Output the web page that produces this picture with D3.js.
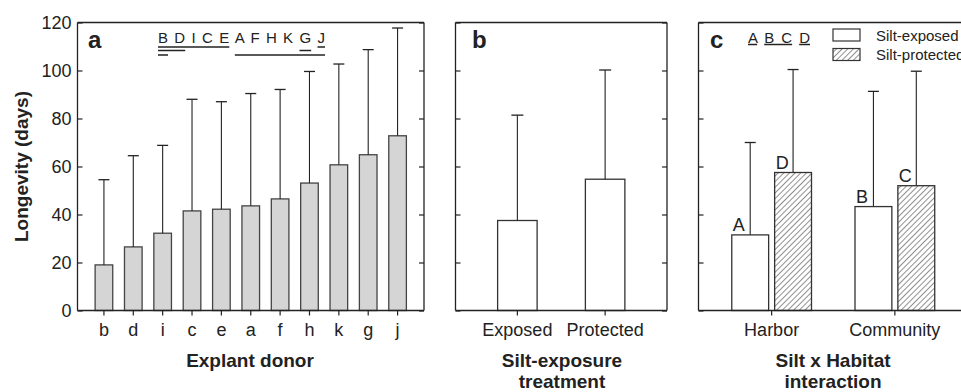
<!DOCTYPE html>
<html>
<head>
<meta charset="utf-8">
<script src="https://cdn.jsdelivr.net/npm/d3@7"></script>
<style>
  body { margin: 0; background: #fff; }
  svg { font-family: "Liberation Sans", Arial, sans-serif; }
</style>
</head>
<body>
<svg id="chart" width="961" height="392"></svg>
<script>
// panel a: explant donor
var donors = ["b", "d", "i", "c", "e", "a", "f", "h", "k", "g", "j"];
var donorMean = [19, 26.5, 32.2, 41.5, 42.2, 43.6, 46.5, 53.1, 60.7, 64.9, 72.8];
var donorSD = [35.5, 38, 36.6, 46.5, 44.8, 46.8, 45.6, 46.5, 42, 43.8, 44.9];
var donorLetters = "B D I C E A F H K G J";
// [from, to, level]
var donorGroups = [["B", "E", 0], ["J", "J", 0], ["B", "D", 1], ["G", "G", 1], ["B", "B", 2], ["A", "J", 2]];

// panel b: silt exposure
var treatments = ["Exposed", "Protected"];
var treatMean = [37.5, 54.7];
var treatSD = [43.9, 45.5];

// panel c: silt x habitat
var habitats = ["Harbor", "Community"];
var siltLevels = ["Silt-exposed", "Silt-protected"];
var harborMean = [31.5, 57.5];
var harborSD = [38.5, 42.9];
var communityMean = [43.3, 52];
var communitySD = [48, 47.7];
var interLetters = [["A", "D"], ["B", "C"]];
var interText = "A B C D";
var interGroups = [["A", "A"], ["B", "C"], ["D", "D"]];

var yTicks = [0, 20, 40, 60, 80, 100, 120];

var svg = d3.select("#chart");
var ink = "#222";

var top0 = 22.5, bottom0 = 310.5;
var y = d3.scaleLinear().domain([0, 120]).range([bottom0, top0]);

var defs = svg.append("defs");
defs.append("pattern")
    .attr("id", "hatch")
    .attr("patternUnits", "userSpaceOnUse")
    .attr("width", 4).attr("height", 4)
    .attr("patternTransform", "rotate(45)")
  .append("line")
    .attr("x1", 0).attr("y1", 0).attr("x2", 0).attr("y2", 4)
    .attr("stroke", "#222").attr("stroke-width", 1);

function frame(x0, x1, opts) {
  var g = svg.append("g");
  g.append("line").attr("x1", x0).attr("x2", x1).attr("y1", top0).attr("y2", top0)
      .attr("stroke", ink).attr("stroke-width", 1.3);
  g.append("line").attr("x1", x0).attr("x2", x1).attr("y1", bottom0).attr("y2", bottom0)
      .attr("stroke", ink).attr("stroke-width", 1.3);
  g.append("line").attr("x1", x0).attr("x2", x0).attr("y1", top0).attr("y2", bottom0)
      .attr("stroke", ink).attr("stroke-width", 1.3);
  g.append("line").attr("x1", x1).attr("x2", x1).attr("y1", top0).attr("y2", bottom0)
      .attr("stroke", ink).attr("stroke-width", 1.3);

  var left = g.append("g")
      .attr("transform", "translate(" + x0 + ",0)")
      .call(d3.axisLeft(y).tickValues(yTicks).tickSize(-5).tickSizeOuter(0).tickPadding(6)
        .tickFormat(opts.labels ? d3.format("d") : ""));
  var right = g.append("g")
      .attr("transform", "translate(" + x1 + ",0)")
      .call(d3.axisRight(y).tickValues(yTicks).tickSize(-5).tickSizeOuter(0).tickFormat(""));
  [left, right].forEach(function(a) {
    a.select(".domain").remove();
    a.selectAll("line").attr("stroke", ink).attr("stroke-width", 1.2);
    a.selectAll("text").attr("font-size", 18).attr("fill", ink).attr("font-family", "Liberation Sans, Arial, sans-serif");
  });
  return g;
}

function bottomAxis(scale) {
  var a = svg.append("g")
      .attr("transform", "translate(0," + bottom0 + ")")
      .call(d3.axisBottom(scale).tickSize(5).tickSizeOuter(0).tickPadding(8));
  a.select(".domain").remove();
  a.selectAll("line").attr("stroke", ink).attr("stroke-width", 1.2);
  a.selectAll("text").attr("font-size", 18).attr("fill", ink).attr("font-family", "Liberation Sans, Arial, sans-serif");
}

function errorBars(g, xs, tops, sds, capW) {
  g.selectAll(null).data(tops).enter().append("line")
      .attr("x1", function(d, i) { return xs[i]; })
      .attr("x2", function(d, i) { return xs[i]; })
      .attr("y1", function(d) { return y(d); })
      .attr("y2", function(d, i) { return y(d + sds[i]); })
      .attr("stroke", ink).attr("stroke-width", 1.1);
  g.selectAll(null).data(tops).enter().append("line")
      .attr("x1", function(d, i) { return xs[i] - capW / 2; })
      .attr("x2", function(d, i) { return xs[i] + capW / 2; })
      .attr("y1", function(d, i) { return y(d + sds[i]); })
      .attr("y2", function(d, i) { return y(d + sds[i]); })
      .attr("stroke", ink).attr("stroke-width", 1.3);
}

function panelLabel(x, txt) {
  svg.append("text").attr("x", x).attr("y", 48)
      .attr("font-size", 24).attr("font-weight", "bold").attr("fill", ink)
      .text(txt);
}

function axisTitle(cx, lines) {
  var t = svg.append("text").attr("text-anchor", "middle")
      .attr("font-size", 19).attr("font-weight", "bold").attr("fill", ink);
  lines.forEach(function(l, i) {
    t.append("tspan").attr("x", cx).attr("y", 367 + i * 21).text(l);
  });
}

function letterGroups(x0, width, txt, groups, levelY) {
  var t = svg.append("text")
      .attr("x", x0).attr("y", 42.5)
      .attr("font-size", 15).attr("fill", ink)
      .attr("textLength", width).attr("lengthAdjust", "spacing")
      .text(txt);
  var node = t.node();
  groups.forEach(function(gr) {
    var i0 = txt.indexOf(gr[0]), i1 = txt.indexOf(gr[1]);
    var xa = node.getStartPositionOfChar(i0).x;
    var xb = node.getEndPositionOfChar(i1).x;
    var yy = levelY[gr[2] || 0];
    svg.append("line").attr("x1", xa).attr("x2", xb).attr("y1", yy).attr("y2", yy)
        .attr("stroke", ink).attr("stroke-width", 1.5);
  });
}

// ---------- panel a ----------
var xa = d3.scaleBand().domain(donors).range([77.5, 424]).paddingInner(0.4).paddingOuter(0.6);
var ga = svg.append("g");
ga.selectAll("rect").data(donorMean).enter().append("rect")
    .attr("x", function(d, i) { return xa(donors[i]); })
    .attr("width", xa.bandwidth())
    .attr("y", function(d) { return y(d); })
    .attr("height", function(d) { return y(0) - y(d); })
    .attr("fill", "#d4d5d4").attr("stroke", "#444").attr("stroke-width", 1.3);
errorBars(ga, donors.map(function(d) { return xa(d) + xa.bandwidth() / 2; }), donorMean, donorSD, 11);
frame(77.5, 424, { labels: true });
bottomAxis(xa);
panelLabel(88, "a");
letterGroups(158, 167, donorLetters, donorGroups, [47, 50.5, 55]);
axisTitle(250, ["Explant donor"]);

svg.append("text")
    .attr("transform", "translate(28," + ((top0 + bottom0) / 2) + ") rotate(-90)")
    .attr("text-anchor", "middle")
    .attr("font-size", 19).attr("font-weight", "bold").attr("fill", ink)
    .text("Longevity (days)");

// ---------- panel b ----------
var xb = d3.scaleBand().domain(treatments).range([455.5, 667]).paddingInner(0.55).paddingOuter(0.48);
var gb = svg.append("g");
gb.selectAll("rect").data(treatMean).enter().append("rect")
    .attr("x", function(d, i) { return xb(treatments[i]); })
    .attr("width", xb.bandwidth())
    .attr("y", function(d) { return y(d); })
    .attr("height", function(d) { return y(0) - y(d); })
    .attr("fill", "#fff").attr("stroke", "#333").attr("stroke-width", 1.3);
errorBars(gb, treatments.map(function(d) { return xb(d) + xb.bandwidth() / 2; }), treatMean, treatSD, 12);
frame(455.5, 667, { labels: false });
bottomAxis(xb);
panelLabel(472, "b");
axisTitle(562, ["Silt-exposure", "treatment"]);

// ---------- panel c ----------
var xc = d3.scaleBand().domain(habitats).range([698.5, 968]).paddingInner(0.353).paddingOuter(0.27);
var xs = d3.scaleBand().domain(siltLevels).range([0, xc.bandwidth()]).paddingInner(0.14);
var cMeans = [harborMean, communityMean];
var cSDs = [harborSD, communitySD];
var gc = svg.append("g");
habitats.forEach(function(h, hi) {
  var gx = xc(h);
  var xsPos = siltLevels.map(function(s) { return gx + xs(s) + xs.bandwidth() / 2; });
  errorBars(gc, xsPos, cMeans[hi], cSDs[hi], 11);
  gc.selectAll(null).data(cMeans[hi]).enter().append("rect")
      .attr("x", function(d, i) { return gx + xs(siltLevels[i]); })
      .attr("width", xs.bandwidth())
      .attr("y", function(d) { return y(d); })
      .attr("height", function(d) { return y(0) - y(d); })
      .attr("fill", function(d, i) { return i === 0 ? "#fff" : "url(#hatch)"; })
      .attr("stroke", "#333").attr("stroke-width", 1.3);
  gc.selectAll(null).data(cMeans[hi]).enter().append("text")
      .attr("x", function(d, i) { return gx + xs(siltLevels[i]) + 1; })
      .attr("y", function(d) { return y(d) - 4; })
      .attr("font-size", 18).attr("fill", ink)
      .text(function(d, i) { return interLetters[hi][i]; });
});
frame(698.5, 968, { labels: false });
bottomAxis(xc);
panelLabel(710, "c");
letterGroups(748, 62, interText, interGroups, [44.5]);
axisTitle(833, ["Silt x Habitat", "interaction"]);

// legend
var leg = svg.append("g").attr("transform", "translate(833,29)");
siltLevels.forEach(function(s, i) {
  leg.append("rect").attr("x", 0).attr("y", i * 19.5).attr("width", 27).attr("height", 12)
      .attr("fill", i === 0 ? "#fff" : "url(#hatch)").attr("stroke", "#333").attr("stroke-width", 1.2);
  leg.append("text").attr("x", 43).attr("y", i * 19.5 + 11.5)
      .attr("font-size", 15).attr("fill", ink).text(s);
});
</script>
</body>
</html>
